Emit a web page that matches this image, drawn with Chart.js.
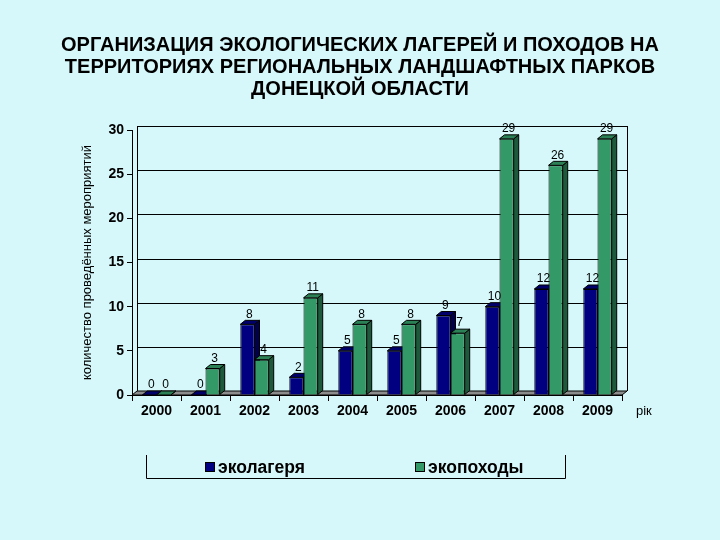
<!DOCTYPE html>
<html>
<head>
<meta charset="utf-8">
<script src="https://cdn.jsdelivr.net/npm/chart.js@4"></script>
<style>
  body { margin: 0; background: #d6f8fa; }
  #wrap { width: 720px; height: 540px; }
</style>
</head>
<body>
<div id="wrap"><canvas id="chart" width="720" height="540"></canvas></div>
<script>

var years = ['2000', '2001', '2002', '2003', '2004', '2005', '2006', '2007', '2008', '2009'];
var ekolagerya = [0, 0, 8, 2, 5, 5, 9, 10, 12, 12];
var ekopohody = [0, 3, 4, 11, 8, 8, 7, 29, 26, 29];
var seriesNames = ['эколагеря', 'экопоходы'];
var yTicks = [0, 5, 10, 15, 20, 25, 30];

var titleLines = [
	'ОРГАНИЗАЦИЯ ЭКОЛОГИЧЕСКИХ ЛАГЕРЕЙ И ПОХОДОВ НА',
	'ТЕРРИТОРИЯХ РЕГИОНАЛЬНЫХ ЛАНДШАФТНЫХ ПАРКОВ',
	'ДОНЕЦКОЙ ОБЛАСТИ'
];

// front, side, top
var faces = [
	['#000080', '#00004d', '#00006a'],
	['#339966', '#1d5a3b', '#2b8055']
];

var DX = 5, DY = -4;

function poly(ctx, pts, fill){
	ctx.beginPath();
	ctx.moveTo(pts[0][0], pts[0][1]);
	for (var i = 1; i < pts.length; i++) { ctx.lineTo(pts[i][0], pts[i][1]); }
	ctx.closePath();
	ctx.fillStyle = fill;
	ctx.fill();
	ctx.lineWidth = 1;
	ctx.strokeStyle = '#000';
	ctx.stroke();
}

var bars3d = {
	id: 'bars3d',
	beforeDatasetsDraw: function(chart){
		var ctx = chart.ctx;
		var a = chart.chartArea;
		var y = chart.scales.y;
		ctx.save();
		// back wall lines
		ctx.strokeStyle = '#000';
		ctx.lineWidth = 1;
		yTicks.forEach(function(t){
			var py = Math.round(y.getPixelForValue(t) + DY) + 0.5;
			ctx.beginPath();
			ctx.moveTo(a.left + DX, py);
			ctx.lineTo(a.right + DX, py);
			ctx.stroke();
		});
		ctx.beginPath();
		ctx.moveTo(a.left + DX + 0.5, a.top + DY);
		ctx.lineTo(a.left + DX + 0.5, a.bottom + DY);
		ctx.moveTo(a.right + DX + 0.5, a.top + DY);
		ctx.lineTo(a.right + DX + 0.5, a.bottom + DY);
		ctx.stroke();
		// floor
		poly(ctx, [[a.left, a.bottom], [a.right, a.bottom], [a.right + DX, a.bottom + DY], [a.left + DX, a.bottom + DY]], '#8c8c8c');
		// sides and tops
		for (var j = 0; j < years.length; j++) {
			for (var d = 0; d < 2; d++) {
				var b = chart.getDatasetMeta(d).data[j];
				var l = b.x - b.width / 2, r = b.x + b.width / 2;
				poly(ctx, [[r, b.y], [r + DX, b.y + DY], [r + DX, b.base + DY], [r, b.base]], faces[d][1]);
				poly(ctx, [[l, b.y], [l + DX, b.y + DY], [r + DX, b.y + DY], [r, b.y]], faces[d][2]);
			}
		}
		ctx.restore();
	},
	afterDraw: function(chart){
		var ctx = chart.ctx;
		ctx.save();
		// title
		ctx.fillStyle = '#000';
		ctx.font = 'bold 20px "Liberation Sans", Arial, sans-serif';
		ctx.textAlign = 'center';
		ctx.textBaseline = 'middle';
		titleLines.forEach(function(t, i){
			ctx.fillText(t, 360, 45 + i * 22);
		});
		// value labels
		ctx.font = '12px "Liberation Sans", Arial, sans-serif';
		for (var d = 0; d < 2; d++) {
			var vals = chart.data.datasets[d].data;
			chart.getDatasetMeta(d).data.forEach(function(b, j){
				ctx.fillText(vals[j], b.x + 2, b.y - 10);
			});
		}
		// "рік"
		ctx.font = '13px "Liberation Sans", Arial, sans-serif';
		ctx.textAlign = 'left';
		ctx.fillText('рік', 636, 411);
		// legend box
		ctx.strokeStyle = '#000';
		ctx.lineWidth = 1;
		ctx.beginPath();
		ctx.moveTo(146.5, 455);
		ctx.lineTo(146.5, 478.5);
		ctx.lineTo(565.5, 478.5);
		ctx.lineTo(565.5, 455);
		ctx.stroke();
		var lx = [205, 415];
		ctx.font = 'bold 17.5px "Liberation Sans", Arial, sans-serif';
		for (var k = 0; k < 2; k++) {
			ctx.fillStyle = faces[k][0];
			ctx.fillRect(lx[k], 462, 10, 10);
			ctx.strokeRect(lx[k] + 0.5, 462.5, 9, 9);
			ctx.fillStyle = '#000';
			ctx.fillText(seriesNames[k], lx[k] + 13, 468);
		}
		ctx.restore();
	}
};

var ctx = document.getElementById('chart');

new Chart(ctx, {
	type: 'bar',
	data: {
		labels: years,
		datasets: [{
			label: seriesNames[0],
			data: ekolagerya,
			backgroundColor: faces[0][0],
			borderColor: '#000',
			borderWidth: 1
		}, {
			label: seriesNames[1],
			data: ekopohody,
			backgroundColor: faces[1][0],
			borderColor: '#000',
			borderWidth: 1
		}]
	},
	options: {
		responsive: false,
		animation: false,
		layout: { padding: { left: 76, right: 98, top: 130, bottom: 115 } },
		categoryPercentage: 0.58,
		barPercentage: 1,
		plugins: {
			legend: { display: false },
			tooltip: { enabled: false },
			title: { display: false }
		},
		scales: {
			x: {
				grid: { display: true, drawOnChartArea: false, drawTicks: true, tickLength: 6, color: '#000', offset: true },
				border: { display: true, color: '#000' },
				ticks: { color: '#000', font: { family: '"Liberation Sans", Arial, sans-serif', size: 14, weight: 'bold' }, padding: 2 },
				afterFit: function(s){ s.height = 30; }
			},
			y: {
				min: 0,
				max: 30,
				ticks: { stepSize: 5, color: '#000', font: { family: '"Liberation Sans", Arial, sans-serif', size: 14, weight: 'bold' }, padding: 3 },
				grid: { display: true, drawOnChartArea: false, drawTicks: true, tickLength: 5, color: '#000' },
				border: { display: true, color: '#000' },
				title: {
					display: true,
					text: 'количество проведённых мероприятий',
					color: '#000',
					font: { family: '"Liberation Sans", Arial, sans-serif', size: 13 },
					padding: { top: 4, bottom: 0 }
				},
				afterFit: function(s){ s.width = 56; }
			}
		}
	},
	plugins: [bars3d]
});
</script>
</body>
</html>
